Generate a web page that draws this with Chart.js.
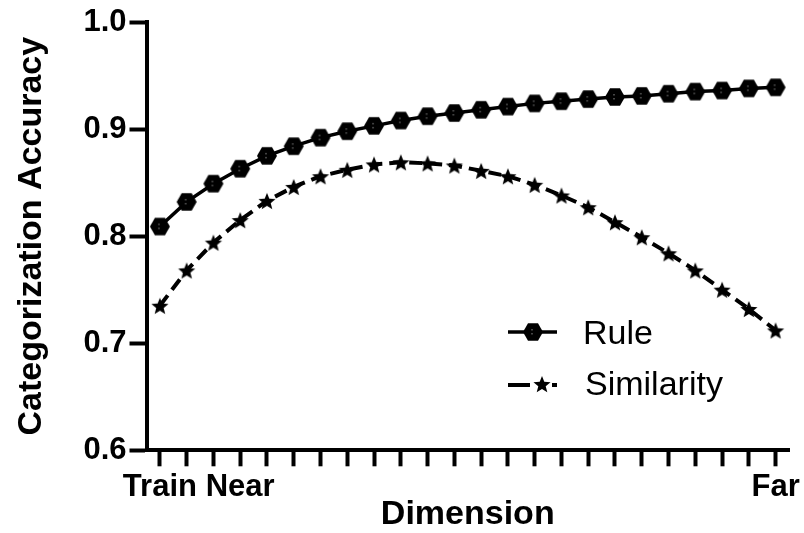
<!DOCTYPE html>
<html>
<head>
<meta charset="utf-8">
<script src="https://cdn.jsdelivr.net/npm/chart.js@4.4.1/dist/chart.umd.min.js"></script>
<style>
  html, body { margin: 0; padding: 0; background: #fff; }
  #wrap { width: 804px; height: 533px; position: relative; }
</style>
</head>
<body>
<div id="wrap"><canvas id="chart" width="804" height="533"></canvas></div>
<script>
// Test positions along the dimension (24 steps, only three named)
const dimensionLabels = [
  'Train', '', '', 'Near', '', '', '', '', '', '', '', '',
  '', '', '', '', '', '', '', '', '', '', '', 'Far'
];

// Categorization accuracy per position
const ruleAccuracy = [
  0.809, 0.832, 0.849, 0.863, 0.875, 0.884, 0.892, 0.898,
  0.903, 0.908, 0.912, 0.915, 0.918, 0.921, 0.924, 0.926,
  0.928, 0.930, 0.931, 0.933, 0.935, 0.936, 0.938, 0.939
];
const similarityAccuracy = [
  0.735, 0.768, 0.794, 0.815, 0.833, 0.846, 0.856, 0.862,
  0.867, 0.869, 0.868, 0.866, 0.861, 0.856, 0.848, 0.838,
  0.827, 0.813, 0.799, 0.784, 0.768, 0.750, 0.732, 0.712
];

const yTicks = [0.6, 0.7, 0.8, 0.9, 1.0];

const FONT = '"Liberation Sans", Arial, Helvetica, sans-serif';

// Filled hexagon marker (flat top and bottom)
function makeHexagon(r) {
  const c = document.createElement('canvas');
  const w = Math.ceil(r * 2 + 2), h = Math.ceil(r * Math.sqrt(3) + 2);
  c.width = w; c.height = h;
  const g = c.getContext('2d');
  const cx = w / 2, cy = h / 2;
  g.beginPath();
  for (let i = 0; i < 6; i++) {
    const a = Math.PI / 3 * i;
    const px = cx + r * Math.cos(a), py = cy + r * Math.sin(a);
    if (i === 0) g.moveTo(px, py); else g.lineTo(px, py);
  }
  g.closePath();
  g.fillStyle = '#000';
  g.fill();
  // faint inner specks
  g.fillStyle = 'rgba(255,255,255,0.55)';
  g.fillRect(cx - 1.5, cy - 3, 1, 1.5);
  g.fillRect(cx - 1.5, cy + 1, 1, 1.5);
  return c;
}

// Filled five-point star marker
function makeStar(ro, ri) {
  const c = document.createElement('canvas');
  const s = Math.ceil(ro * 2 + 2);
  c.width = s; c.height = s;
  const g = c.getContext('2d');
  const cx = s / 2, cy = s / 2 + 1;
  g.beginPath();
  for (let i = 0; i < 10; i++) {
    const r = i % 2 === 0 ? ro : ri;
    const a = -Math.PI / 2 + Math.PI / 5 * i;
    const px = cx + r * Math.cos(a), py = cy + r * Math.sin(a);
    if (i === 0) g.moveTo(px, py); else g.lineTo(px, py);
  }
  g.closePath();
  g.fillStyle = '#000';
  g.fill();
  return c;
}

const hexMarker = makeHexagon(10);
const starMarker = makeStar(9, 3.9);

// Legend drawn inside the plot, lower right
const insideLegend = {
  id: 'insideLegend',
  afterDraw(chart) {
    const ctx = chart.ctx;
    ctx.save();
    ctx.strokeStyle = '#000';
    ctx.fillStyle = '#000';
    ctx.font = '34px ' + FONT;
    ctx.textBaseline = 'alphabetic';
    ctx.textAlign = 'left';

    // Rule
    let y = 332;
    ctx.lineWidth = 3.5;
    ctx.setLineDash([]);
    ctx.beginPath(); ctx.moveTo(508, y); ctx.lineTo(557, y); ctx.stroke();
    ctx.drawImage(hexMarker, 533 - hexMarker.width / 2, y - hexMarker.height / 2);
    ctx.fillText('Rule', 583, 344);

    // Similarity
    y = 385;
    ctx.lineWidth = 4;
    ctx.beginPath(); ctx.moveTo(508, y); ctx.lineTo(530, y); ctx.stroke();
    ctx.beginPath(); ctx.moveTo(552, y); ctx.lineTo(557, y); ctx.stroke();
    ctx.drawImage(starMarker, 542 - starMarker.width / 2, y - starMarker.height / 2 - 1);
    ctx.fillText('Similarity', 585, 395);
    ctx.restore();
  }
};

new Chart(document.getElementById('chart'), {
  type: 'line',
  data: {
    labels: dimensionLabels,
    datasets: [
      {
        label: 'Rule',
        data: ruleAccuracy,
        borderColor: '#000',
        backgroundColor: '#000',
        borderWidth: 3.5,
        pointStyle: hexMarker,
        pointRadius: 10,
        tension: 0,
        fill: false
      },
      {
        label: 'Similarity',
        data: similarityAccuracy,
        borderColor: '#000',
        backgroundColor: '#000',
        borderWidth: 4,
        borderDash: [13, 7],
        pointStyle: starMarker,
        pointRadius: 9,
        tension: 0,
        fill: false
      }
    ]
  },
  options: {
    responsive: false,
    animation: false,
    events: [],
    layout: { padding: { top: 22, right: 15, left: 0, bottom: 0 } },
    plugins: {
      legend: { display: false },
      tooltip: { enabled: false }
    },
    scales: {
      x: {
        type: 'category',
        offset: true,
        afterFit(scale) { scale.height = 533 - 450.3; },
        border: { display: true, color: '#000', width: 4 },
        grid: {
          offset: false,
          drawOnChartArea: false,
          drawTicks: true,
          tickLength: 16,
          tickWidth: 4,
          tickColor: '#000'
        },
        ticks: {
          autoSkip: false,
          maxRotation: 0,
          minRotation: 0,
          padding: 3,
          color: '#000',
          font: { family: FONT, size: 31, weight: 'bold' }
        },
        title: {
          display: true,
          text: 'Dimension',
          color: '#000',
          font: { family: FONT, size: 34, weight: 'bold', lineHeight: 1 },
          padding: { top: 0, bottom: 1 }
        }
      },
      y: {
        type: 'linear',
        min: 0.6,
        max: 1.0,
        afterFit(scale) { scale.width = 146.5; },
        afterBuildTicks(scale) { scale.ticks = yTicks.map(v => ({ value: v })); },
        border: { display: true, color: '#000', width: 4 },
        grid: {
          drawOnChartArea: false,
          drawTicks: true,
          tickLength: 17,
          tickWidth: 4,
          tickColor: '#000'
        },
        ticks: {
          padding: 3,
          color: '#000',
          font: { family: FONT, size: 31, weight: 'bold' },
          callback: v => Number(v).toFixed(1)
        },
        title: {
          display: true,
          text: 'Categorization Accuracy',
          color: '#000',
          font: { family: FONT, size: 34, weight: 'bold', lineHeight: 1 },
          padding: { top: 15, bottom: 0 }
        }
      }
    }
  },
  plugins: [insideLegend]
});
</script>
</body>
</html>
